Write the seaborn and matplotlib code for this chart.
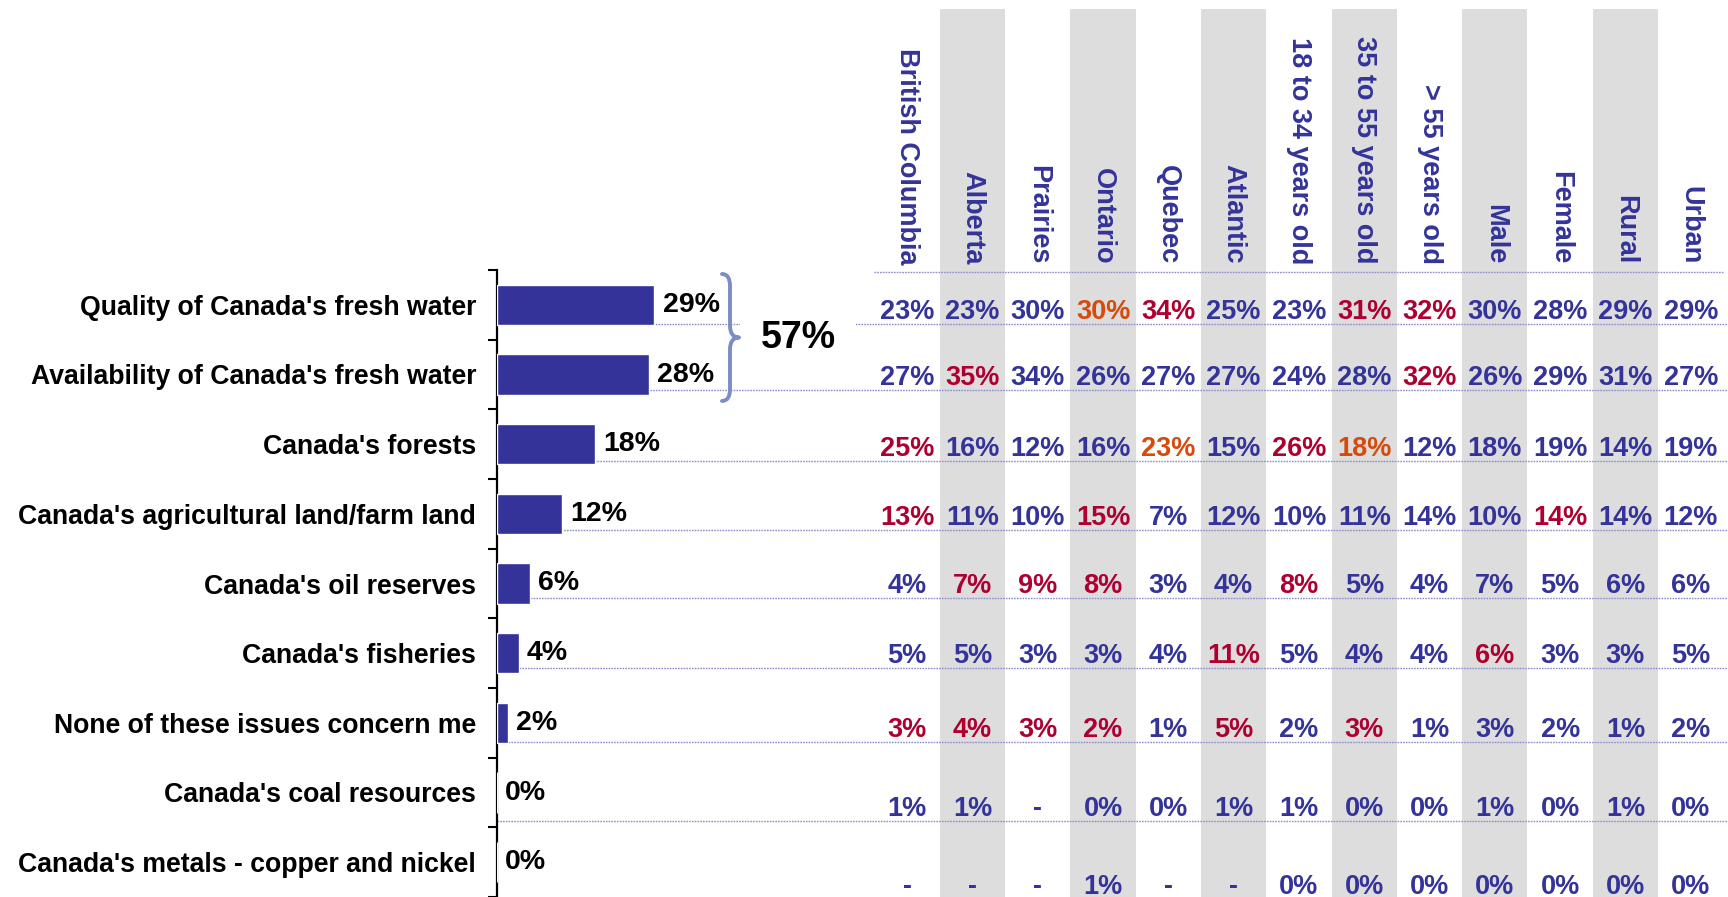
import matplotlib
matplotlib.use("Agg")
import numpy as np
import pandas as pd
import matplotlib.pyplot as plt
import seaborn as sns
from matplotlib.path import Path
from matplotlib.patches import PathPatch

# ---------------- data ----------------
categories = [
    "Quality of Canada's fresh water",
    "Availability of Canada's fresh water",
    "Canada's forests",
    "Canada's agricultural land/farm land",
    "Canada's oil reserves",
    "Canada's fisheries",
    "None of these issues concern me",
    "Canada's coal resources",
    "Canada's metals - copper and nickel",
]
overall = [29, 28, 18, 12, 6, 4, 2, 0, 0]
water_total = "57%"

groups = ["British Columbia", "Alberta", "Prairies", "Ontario", "Quebec",
          "Atlantic", "18 to 34 years old", "35 to 55 years old",
          "> 55 years old", "Male", "Female", "Rural", "Urban"]

table_values = [
    ["23%", "23%", "30%", "30%", "34%", "25%", "23%", "31%", "32%", "30%", "28%", "29%", "29%"],
    ["27%", "35%", "34%", "26%", "27%", "27%", "24%", "28%", "32%", "26%", "29%", "31%", "27%"],
    ["25%", "16%", "12%", "16%", "23%", "15%", "26%", "18%", "12%", "18%", "19%", "14%", "19%"],
    ["13%", "11%", "10%", "15%", "7%", "12%", "10%", "11%", "14%", "10%", "14%", "14%", "12%"],
    ["4%", "7%", "9%", "8%", "3%", "4%", "8%", "5%", "4%", "7%", "5%", "6%", "6%"],
    ["5%", "5%", "3%", "3%", "4%", "11%", "5%", "4%", "4%", "6%", "3%", "3%", "5%"],
    ["3%", "4%", "3%", "2%", "1%", "5%", "2%", "3%", "1%", "3%", "2%", "1%", "2%"],
    ["1%", "1%", "-", "0%", "0%", "1%", "1%", "0%", "0%", "1%", "0%", "1%", "0%"],
    ["-", "-", "-", "1%", "-", "-", "0%", "0%", "0%", "0%", "0%", "0%", "0%"],
]
# b = normal (blue), r = significantly higher (red), o = higher (orange)
table_flags = [
    "bbborbbrrbbbb",
    "brbbbbbbrbbbb",
    "rbbbobrobbbbb",
    "rbbrbbbbbbrbb",
    "brrrbbrbbbbbb",
    "bbbbbrbbbrbbb",
    "rrrrbrbrbbbbb",
    "bbbbbbbbbbbbb",
    "bbbbbbbbbbbbb",
]

# ---------------- styling ----------------
BLUE = "#333399"
FLAG_COLORS = {"b": BLUE, "r": "#AD0030", "o": "#D64A0C"}
GREY = "#DDDDDD"
DOT = "#8E8ECB"
BRACE = "#7B8DC4"
FS = 19.5
FS_LABEL = 19.2
FS_BARVAL = 20.5

sns.set_style("white")
plt.rcParams["font.family"] = ["Liberation Sans", "DejaVu Sans"]
plt.rcParams["font.weight"] = "bold"

W, H = 1728, 897
fig = plt.figure(figsize=(W / 100, H / 100), dpi=100)
fig.patch.set_facecolor("white")

top_px = 270
spine_px = 497
px_per_pct = 5.43
col_left_px = 874.5
col_w_px = 65.3

ax_bar = fig.add_axes([spine_px / W, 0, (W - spine_px) / W, (H - top_px) / H])
ax_tab = fig.add_axes([col_left_px / W, 0, 13 * col_w_px / W, (H - top_px) / H])
ax_bar.set_zorder(2)
ax_tab.set_zorder(1)
for a in (ax_bar, ax_tab):
    a.patch.set_visible(False)

band_px = (H - top_px) / 9.0


def py_to_data(px):
    return (px - top_px) / band_px - 0.5


# ---------------- bars ----------------
df = pd.DataFrame({"category": categories, "pct": overall})
sns.barplot(data=df, x="pct", y="category", orient="h", color=BLUE,
            saturation=1, width=0.58, ax=ax_bar, zorder=3)
xmax = (W - spine_px) / px_per_pct
ax_bar.set_xlim(0, xmax)
ax_bar.set_ylim(8.5, -0.5)
ax_bar.set_xlabel("")
ax_bar.set_ylabel("")
ax_bar.set_xticks([])
ax_bar.set_yticks(range(len(categories)))
ax_bar.set_yticklabels(categories, fontsize=FS_LABEL, fontweight="bold", color="black")
ax_bar.tick_params(axis="y", which="major", length=0, pad=15)
ax_bar.set_yticks(np.arange(-0.5, len(categories), 1), minor=True)
ax_bar.tick_params(axis="y", which="minor", length=6.5, width=1.5,
                   direction="out", color="black", left=True)
for s in ("top", "right", "bottom"):
    ax_bar.spines[s].set_visible(False)
ax_bar.spines["left"].set_color("black")
ax_bar.spines["left"].set_linewidth(1.6)

for i, v in enumerate(overall):
    ax_bar.text(v + 1.5, i, f"{v}%", ha="left", va="center", fontsize=FS_BARVAL,
                fontweight="bold", color="black", zorder=4)

# dotted row separators
row_lines = [0.27, 1.22, 2.24, 3.23, 4.21, 5.21, 6.27, 7.41]
for y in row_lines:
    ax_bar.plot([0, xmax], [y, y], color=DOT, lw=1.0, ls=(0, (1.2, 0.8)),
                zorder=1, clip_on=False)

# brace + combined total
x_hook = (722 - spine_px) / px_per_pct
x_body = (730 - spine_px) / px_per_pct
x_tip = (739 - spine_px) / px_per_pct
y_top = py_to_data(274)
y_bot = py_to_data(401)
y_mid = (y_top + y_bot) / 2
r = 0.17
verts = [
    (x_hook, y_top), (x_body, y_top), (x_body, y_top + r),
    (x_body, y_mid - r), (x_body, y_mid), (x_tip, y_mid),
    (x_body, y_mid), (x_body, y_mid + r),
    (x_body, y_bot - r), (x_body, y_bot), (x_hook, y_bot),
]
codes = [Path.MOVETO, Path.CURVE3, Path.CURVE3,
         Path.LINETO, Path.CURVE3, Path.CURVE3,
         Path.CURVE3, Path.CURVE3,
         Path.LINETO, Path.CURVE3, Path.CURVE3]
ax_bar.add_patch(PathPatch(Path(verts, codes), facecolor="none", edgecolor=BRACE,
                           lw=2.8, capstyle="round", joinstyle="round",
                           zorder=6, clip_on=False))
ax_bar.text((798 - spine_px) / px_per_pct, py_to_data(338), water_total,
            ha="center", va="center", fontsize=27, fontweight="bold",
            color="black", zorder=5,
            bbox=dict(boxstyle="square,pad=0.55", fc="white", ec="none"))

# ---------------- table ----------------
ax_tab.set_xlim(-0.5, len(groups) - 0.5)
ax_tab.set_ylim(8.5, -0.5)
ax_tab.axis("off")
band_top = (H - 9) / (H - top_px)
for j in range(1, len(groups), 2):
    ax_tab.axvspan(j - 0.5, j + 0.5, ymin=0, ymax=band_top, color=GREY,
                   lw=0, zorder=0, clip_on=False)

y_head_line = py_to_data(272)
ax_tab.plot([-0.5, len(groups) - 0.5], [y_head_line, y_head_line], color=DOT,
            lw=1.0, ls=(0, (1.2, 0.8)), zorder=1, clip_on=False)

y_head_text = py_to_data(264)
for j, g in enumerate(groups):
    ax_tab.text(j, y_head_text, g, rotation=270, ha="center", va="bottom",
                fontsize=FS, fontweight="bold", color=BLUE, clip_on=False)

baselines = [y - 0.07 for y in row_lines] + [py_to_data(894)]
for i, (vals, flags) in enumerate(zip(table_values, table_flags)):
    for j, (v, f) in enumerate(zip(vals, flags)):
        ax_tab.text(j, baselines[i], v, ha="center", va="baseline",
                    fontsize=FS, fontweight="bold", color=FLAG_COLORS[f],
                    clip_on=False)

fig.savefig("out.png", dpi=100, facecolor="white")
